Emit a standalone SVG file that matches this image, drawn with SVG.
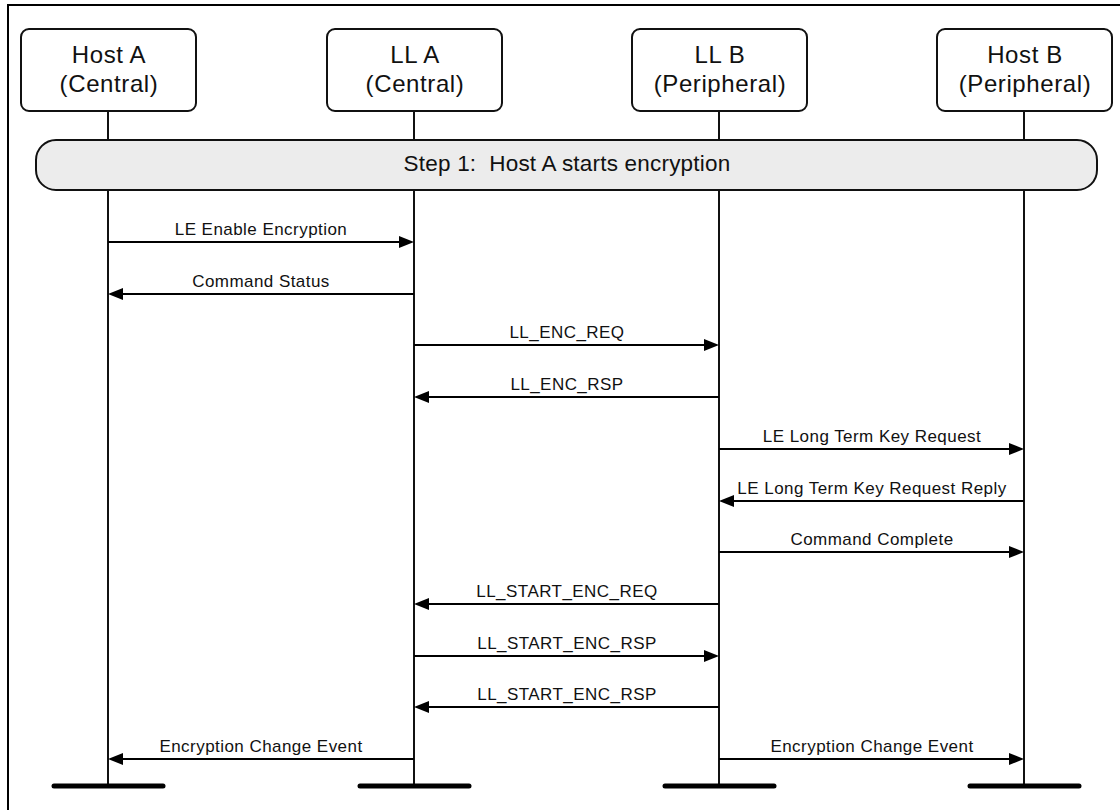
<svg xmlns="http://www.w3.org/2000/svg" width="1120" height="810" viewBox="0 0 1120 810">
<style>
.frame{fill:#fff;stroke:#000;stroke-width:2}
.box{fill:#fff;stroke:#111;stroke-width:2}
.life{stroke:#111;stroke-width:2;fill:none}
.foot{stroke:#000;stroke-width:5;stroke-linecap:round}
.step{fill:#ececec;stroke:#111;stroke-width:2}
.msg{stroke:#000;stroke-width:2;fill:none;marker-end:url(#ah)}
.hd{font-family:"Liberation Sans",Arial,sans-serif;font-size:24px;letter-spacing:0.6px;fill:#111;text-anchor:middle}
.st{font-family:"Liberation Sans",Arial,sans-serif;font-size:22.5px;letter-spacing:0.2px;fill:#111;text-anchor:middle}
.lb{font-family:"Liberation Sans",Arial,sans-serif;font-size:17px;letter-spacing:0.45px;fill:#111;text-anchor:middle}
</style>
<defs>
<marker id="ah" viewBox="0 0 15 12" markerWidth="15" markerHeight="12" refX="7" refY="6" orient="auto" markerUnits="userSpaceOnUse">
<path d="M0,0 L15,6 L0,12 z" fill="#000"/>
</marker>
</defs>
<rect class="frame" x="8" y="5" width="1200" height="900"/>
<g id="lifelines">
<line class="life" x1="108" y1="111" x2="108" y2="786"/>
<line class="life" x1="414" y1="111" x2="414" y2="786"/>
<line class="life" x1="719" y1="111" x2="719" y2="786"/>
<line class="life" x1="1024" y1="111" x2="1024" y2="786"/>
<line class="foot" x1="54" y1="786" x2="163" y2="786"/>
<line class="foot" x1="360" y1="786" x2="469" y2="786"/>
<line class="foot" x1="665" y1="786" x2="774" y2="786"/>
<line class="foot" x1="970" y1="786" x2="1079" y2="786"/>
</g>
<g id="hostA">
<rect class="box" x="21" y="29" width="175" height="82" rx="8"/>
<text class="hd" x="109" y="63">Host A</text>
<text class="hd" x="109" y="92">(Central)</text>
</g>
<g id="llA">
<rect class="box" x="327" y="29" width="175" height="82" rx="8"/>
<text class="hd" x="415" y="63">LL A</text>
<text class="hd" x="415" y="92">(Central)</text>
</g>
<g id="llB">
<rect class="box" x="632" y="29" width="175" height="82" rx="8"/>
<text class="hd" x="720" y="63">LL B</text>
<text class="hd" x="720" y="92">(Peripheral)</text>
</g>
<g id="hostB">
<rect class="box" x="937" y="29" width="175" height="82" rx="8"/>
<text class="hd" x="1025" y="63">Host B</text>
<text class="hd" x="1025" y="92">(Peripheral)</text>
</g>
<g id="step1">
<rect class="step" x="36" y="140" width="1061" height="50" rx="20"/>
<text class="st" x="567" y="171" xml:space="preserve">Step 1:  Host A starts encryption</text>
</g>
<g id="connectors">
<line class="msg" x1="108" y1="242" x2="406" y2="242"/>
<line class="msg" x1="414" y1="294" x2="116" y2="294"/>
<line class="msg" x1="414" y1="345" x2="711" y2="345"/>
<line class="msg" x1="719" y1="397" x2="422" y2="397"/>
<line class="msg" x1="719" y1="449" x2="1016" y2="449"/>
<line class="msg" x1="1024" y1="501" x2="727" y2="501"/>
<line class="msg" x1="719" y1="552" x2="1016" y2="552"/>
<line class="msg" x1="719" y1="604" x2="422" y2="604"/>
<line class="msg" x1="414" y1="656" x2="711" y2="656"/>
<line class="msg" x1="719" y1="707" x2="422" y2="707"/>
<line class="msg" x1="414" y1="759" x2="116" y2="759"/>
<line class="msg" x1="719" y1="759" x2="1016" y2="759"/>
</g>
<g id="labels">
<text class="lb" x="261" y="235">LE Enable Encryption</text>
<text class="lb" x="261" y="287">Command Status</text>
<text class="lb" x="567" y="338">LL_ENC_REQ</text>
<text class="lb" x="567" y="390">LL_ENC_RSP</text>
<text class="lb" x="872" y="442">LE Long Term Key Request</text>
<text class="lb" x="872" y="494">LE Long Term Key Request Reply</text>
<text class="lb" x="872" y="545">Command Complete</text>
<text class="lb" x="567" y="597">LL_START_ENC_REQ</text>
<text class="lb" x="567" y="649">LL_START_ENC_RSP</text>
<text class="lb" x="567" y="700">LL_START_ENC_RSP</text>
<text class="lb" x="261" y="752">Encryption Change Event</text>
<text class="lb" x="872" y="752">Encryption Change Event</text>
</g>
</svg>
